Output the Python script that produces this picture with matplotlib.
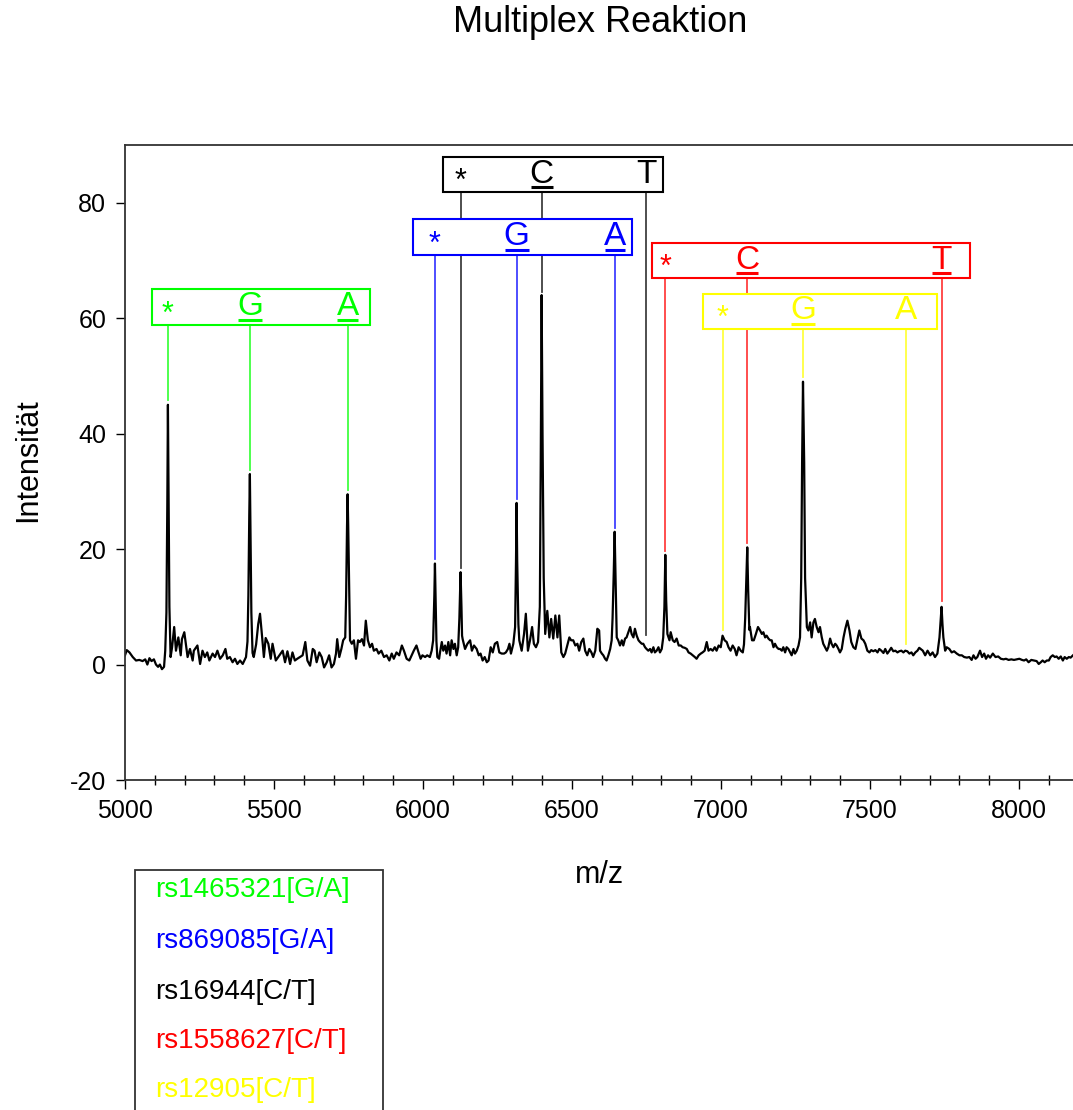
import numpy as np
import matplotlib
matplotlib.use('Agg')
import matplotlib.pyplot as plt
from matplotlib.patches import Rectangle

plt.rcParams['font.family'] = ['Liberation Sans', 'DejaVu Sans']
plt.rcParams['axes.unicode_minus'] = False

# spectrum: (m/z, intensity)
spectrum_points = [
  (5000, 1.6), (5006, 2.5), (5015, 2.1), (5026, 1.3), (5037, 0.7), (5048, 0.8), (5059, 0.6),
  (5068, 0.9), (5075, 0.0), (5082, 1.1), (5089, 0.6), (5097, 0.9), (5104, 0.0), (5111, -0.4),
  (5117, 0.0), (5124, -0.8), (5131, -0.4), (5135, 2.4), (5139, 9.0), (5142, 28.0), (5144, 45.0),
  (5146, 30.0), (5149, 10.0), (5153, 1.3), (5158, 3.0), (5165, 6.5), (5171, 2.4), (5179, 4.7),
  (5187, 1.6), (5191, 4.4), (5199, 5.6), (5210, 1.3), (5218, 2.7), (5227, 0.7), (5231, 2.4),
  (5243, 3.3), (5252, 0.1), (5260, 2.4), (5268, 1.3), (5276, 2.1), (5283, 0.7), (5294, 1.9),
  (5302, 1.3), (5310, 2.4), (5319, 1.0), (5328, 1.6), (5337, 2.7), (5343, 1.0), (5352, 1.3),
  (5361, 0.4), (5369, 1.0), (5377, 0.1), (5386, 0.7), (5395, 0.1), (5406, 1.3), (5411, 4.0),
  (5414, 12.0), (5417, 26.0), (5419, 33.0), (5421, 24.0), (5424, 9.0), (5428, 2.0), (5432, 1.3),
  (5440, 3.5), (5447, 7.0), (5453, 8.8), (5458, 6.0), (5466, 1.3), (5472, 4.6), (5481, 3.6),
  (5489, 1.0), (5495, 3.6), (5506, 0.7), (5518, 1.6),
  (5529, 2.4), (5537, 0.4), (5545, 2.3), (5554, 0.1), (5562, 2.1), (5570, 0.7), (5578, 1.0),
  (5587, 1.3), (5596, 1.6), (5605, 3.9), (5612, 0.7), (5621, -0.2), (5630, 2.7), (5636, 2.4),
  (5643, 0.4), (5652, 2.1), (5660, 1.3), (5668, -0.5), (5677, 0.4), (5685, 1.6), (5693, -0.5),
  (5701, 0.1), (5708, 1.9), (5712, 4.4), (5719, 1.3), (5726, 2.7), (5732, 4.2), (5739, 4.7),
  (5742, 12.0), (5745, 24.0), (5747, 29.5), (5749, 24.0), (5753, 10.0), (5755, 4.2), (5761, 3.6),
  (5768, 4.2), (5775, 1.0), (5782, 4.2), (5788, 3.9), (5795, 4.4), (5802, 3.3), (5808, 7.6),
  (5815, 4.2), (5822, 3.0), (5829, 3.6), (5835, 2.4), (5844, 2.7), (5851, 1.9), (5860, 2.4),
  (5869, 1.3), (5878, 1.6), (5887, 0.7), (5895, 1.9), (5902, 1.0), (5911, 2.1), (5920, 1.6),
  (5929, 3.3), (5936, 2.4), (5945, 1.0), (5954, 0.7), (5962, 1.6), (5969, 2.4), (5978, 3.3),
  (5985, 2.1), (5992, 1.0), (5998, 1.6), (6007, 1.3), (6014, 1.6), (6023, 1.3), (6029, 2.4),
  (6034, 4.2), (6038, 12.0), (6040, 17.5), (6042, 12.0), (6045, 4.0), (6048, 1.3), (6054, 1.0),
  (6057, 2.1), (6063, 3.9), (6068, 2.4), (6074, 3.3), (6079, 1.9), (6085, 3.9), (6091, 1.6),
  (6096, 4.2), (6102, 2.7), (6107, 3.6), (6113, 1.6), (6118, 3.0), (6122, 8.0), (6124, 12.0),
  (6126, 16.0), (6129, 10.0), (6131, 5.0), (6133, 4.4), (6141, 2.7), (6149, 3.6), (6158, 4.2),
  (6164, 2.4), (6171, 3.3), (6180, 2.7), (6187, 1.6), (6193, 1.9), (6200, 0.7), (6207, 1.3),
  (6214, 0.4), (6220, 0.7), (6227, 3.0), (6234, 2.1), (6241, 3.6), (6249, 3.9), (6256, 2.1),
  (6264, 1.9), (6272, 1.9), (6278, 2.1), (6285, 2.7), (6290, 3.6), (6295, 1.9), (6303, 3.6),
  (6309, 6.5), (6312, 18.0), (6314, 28.0), (6316, 18.0), (6320, 7.0), (6323, 4.2), (6331, 2.4),
  (6339, 5.3), (6345, 8.8), (6352, 2.4), (6359, 4.2), (6366, 6.5), (6372, 3.6), (6379, 3.0),
  (6386, 3.9), (6392, 10.0), (6395, 35.0), (6398, 64.0), (6401, 40.0), (6405, 15.0), (6410, 5.3),
  (6417, 9.3), (6424, 4.7), (6430, 7.9), (6437, 4.5), (6444, 8.5), (6451, 4.7), (6457, 8.5),
  (6464, 2.1), (6471, 1.3), (6477, 1.9), (6484, 3.3), (6491, 4.7), (6497, 4.2), (6504, 4.2),
  (6511, 3.3), (6518, 3.6), (6524, 2.4), (6531, 3.9), (6538, 4.5), (6544, 2.4), (6551, 1.6),
  (6558, 2.7), (6565, 2.1), (6571, 1.3), (6578, 2.4), (6585, 6.2), (6591, 5.9),
  (6594, 2.4), (6600, 1.9), (6605, 1.6), (6611, 1.0), (6616, 0.7), (6622, 1.6), (6628, 2.7),
  (6633, 4.2), (6636, 8.0), (6640, 16.0), (6643, 23.0), (6646, 15.0), (6650, 4.7), (6655, 4.2),
  (6661, 3.3), (6667, 4.2), (6672, 3.3), (6678, 4.5), (6683, 4.7), (6689, 5.6), (6695, 6.5),
  (6700, 5.3), (6706, 4.7), (6711, 6.2), (6717, 5.0), (6723, 4.2), (6728, 3.9), (6734, 3.6),
  (6739, 3.6), (6745, 3.0), (6750, 2.7), (6756, 2.4), (6762, 2.7), (6767, 2.1), (6773, 3.0),
  (6778, 2.1), (6784, 2.4), (6790, 3.0), (6795, 2.1), (6801, 2.7), (6806, 4.7), (6810, 10.0),
  (6813, 19.0), (6816, 11.0), (6820, 5.3), (6827, 4.2), (6831, 5.6), (6838, 4.2), (6844, 3.9),
  (6851, 4.5), (6858, 3.3), (6865, 3.3), (6871, 3.0), (6878, 2.9), (6885, 2.7), (6891, 2.1),
  (6898, 1.9), (6905, 1.6), (6912, 1.3), (6918, 1.0), (6925, 1.6), (6932, 1.9), (6938, 2.1),
  (6945, 2.4), (6952, 3.9), (6958, 2.4), (6965, 2.7), (6972, 2.4), (6979, 3.0), (6985, 2.4),
  (6992, 3.3), (6999, 3.0), (7005, 5.0), (7012, 4.2), (7019, 3.9), (7025, 3.0), (7032, 2.4),
  (7039, 3.3), (7046, 2.7), (7052, 1.6), (7059, 3.0), (7066, 2.4), (7073, 2.1), (7077, 3.5),
  (7081, 8.0), (7085, 15.0), (7088, 20.3), (7091, 13.0), (7095, 6.0), (7097, 6.5), (7104, 4.2),
  (7110, 4.2), (7117, 5.3), (7124, 6.5), (7131, 5.9),
  (7137, 5.3), (7142, 5.6), (7148, 4.7), (7153, 5.0), (7159, 4.5), (7165, 4.2), (7170, 4.2),
  (7176, 3.0), (7181, 3.6), (7187, 3.0), (7193, 2.7), (7198, 2.7), (7204, 2.4), (7209, 3.0),
  (7215, 2.1), (7220, 3.0), (7226, 2.7), (7232, 2.1), (7237, 1.6), (7243, 2.7), (7248, 1.9),
  (7254, 2.4), (7260, 3.3), (7265, 4.7), (7269, 15.0), (7272, 35.0), (7275, 49.0), (7279, 35.0),
  (7282, 15.0), (7288, 6.5), (7293, 5.9), (7299, 7.3), (7304, 4.7), (7310, 7.3), (7315, 7.9),
  (7321, 6.5), (7327, 5.6), (7332, 6.5), (7338, 4.7), (7343, 3.6), (7349, 3.0), (7355, 2.4),
  (7360, 3.0), (7366, 4.5), (7371, 3.6), (7377, 3.0), (7383, 3.6), (7388, 3.3), (7394, 2.7),
  (7399, 2.1), (7405, 2.7), (7411, 4.7), (7417, 6.2), (7424, 7.6), (7431, 5.9), (7437, 3.9),
  (7444, 3.0), (7451, 2.7), (7457, 4.2), (7464, 5.9), (7471, 4.5), (7478, 4.2), (7484, 3.6),
  (7491, 2.4), (7498, 2.1), (7504, 2.5), (7511, 2.3), (7518, 2.5), (7525, 2.1), (7531, 2.7),
  (7538, 2.4), (7545, 2.0), (7551, 2.7), (7558, 1.9), (7565, 2.4), (7571, 2.9), (7578, 2.3),
  (7585, 2.4), (7592, 2.1), (7598, 2.3), (7605, 2.4), (7612, 2.1), (7618, 2.4), (7625, 2.3),
  (7632, 1.9), (7639, 2.1), (7645, 1.6), (7652, 2.1), (7659, 2.4), (7665, 2.9),
  (7677, 2.4), (7685, 1.6), (7693, 2.4), (7702, 1.6), (7710, 2.1), (7718, 1.3), (7726, 1.9),
  (7733, 4.7), (7736, 7.0), (7740, 10.0), (7743, 7.0), (7746, 4.7), (7752, 2.4), (7757, 3.0),
  (7766, 2.7), (7774, 2.1), (7782, 2.3), (7791, 1.9), (7800, 1.6), (7808, 1.6), (7816, 1.3),
  (7825, 1.2), (7833, 1.3), (7841, 0.8), (7847, 1.6), (7854, 1.0), (7860, 1.3), (7869, 2.4),
  (7876, 1.3), (7883, 1.9), (7889, 1.0), (7896, 1.6), (7903, 1.2), (7912, 1.9), (7921, 1.3),
  (7930, 1.4), (7939, 1.0), (7948, 0.9), (7956, 1.0), (7965, 0.8), (7974, 0.9), (7983, 0.8),
  (7992, 0.9), (8001, 1.0), (8010, 0.8), (8017, 0.7), (8024, 0.9), (8032, 0.4), (8041, 0.8),
  (8050, 0.7), (8059, 0.6), (8066, 0.1), (8073, 0.4), (8079, 0.7), (8086, 0.4), (8093, 0.7),
  (8100, 0.7), (8106, 1.3), (8113, 1.6), (8120, 1.3), (8126, 1.4), (8133, 1.0), (8140, 1.4),
  (8147, 0.7), (8153, 1.3), (8160, 1.0), (8167, 1.3), (8173, 1.2), (8181, 1.6),
]

# SNP assays
snp_names = ['rs1465321[G/A]', 'rs869085[G/A]', 'rs16944[C/T]', 'rs1558627[C/T]', 'rs12905[C/T]']
snp_colors = ['#00ff00', '#0000ff', '#000000', '#ff0000', '#ffff00']
snp_labels = [['*', 'G', 'A'], ['*', 'G', 'A'], ['*', 'C', 'T'], ['*', 'C', 'T'], ['*', 'G', 'A']]
snp_mz = [[5144, 5419, 5747], [6040, 6314, 6643], [6126, 6398, 6748],
          [6813, 7088, 7740], [7005, 7275, 7621]]
stem_end = [[45.8, 33.7, 30.2], [18.3, 28.7, 23.7], [16.8, 64.6, 5.2],
            [19.6, 21.0, 11.0], [6.0, 49.8, 3.6]]
underlined = [[False, True, True], [False, True, True], [False, True, False],
              [False, True, True], [False, True, False]]

# label boxes (x0, x1, y0, y1) in data units, and drawing order
boxes = [(5091, 5822, 58.9, 65.1), (5966, 6701, 71.0, 77.1), (6067, 6805, 81.9, 88.0),
         (6768, 7836, 67.0, 73.1), (6940, 7725, 58.2, 64.2)]
zorders = [6, 8, 4, 4, 8]

W, H = 1073, 1110
fig = plt.figure(figsize=(W/100, H/100), dpi=100)
ax = fig.add_axes([125/W, 1-780/H, (W-125)/W, (780-145)/H])

mz = np.array([p[0] for p in spectrum_points])
inten = np.array([p[1] for p in spectrum_points])
ax.plot(mz, inten, color='black', lw=1.6, zorder=2)

ax.set_xlim(5000, 8181)
ax.set_ylim(-20, 90)
ax.set_xticks(np.arange(5000, 8001, 500))
ax.set_xticks(np.arange(5100, 8181, 100), minor=True)
ax.set_yticks(np.arange(-20, 81, 20))
ax.tick_params(axis='x', which='major', direction='out', length=6.5, width=1, labelsize=18, pad=7)
ax.tick_params(axis='x', which='minor', direction='inout', length=7.5, width=1)
ax.tick_params(axis='y', which='major', direction='out', length=6.5, width=1, labelsize=18, pad=7)
ax.spines['right'].set_visible(False)
for s in ['left', 'bottom', 'top']:
  ax.spines[s].set_color('#333333')
  ax.spines[s].set_linewidth(1.3)

letters = []
for i in range(len(snp_names)):
  col = snp_colors[i]
  x0, x1, y0, y1 = boxes[i]
  z = zorders[i]
  for m, e in zip(snp_mz[i], stem_end[i]):
    ax.plot([m, m], [e, y0], color=col, lw=1.3, alpha=0.75, zorder=z)
  ax.add_patch(Rectangle((x0, y0), x1-x0, y1-y0, facecolor='white', edgecolor=col,
                         lw=1.5, zorder=z+0.5))
  for lab, m, u in zip(snp_labels[i], snp_mz[i], underlined[i]):
    if lab == '*':
      ax.text(m, y0 + 0.3, lab, ha='center', va='baseline', fontsize=22, color=col, zorder=z+1)
    else:
      t = ax.text(m, y0 + 1.6, lab, ha='center', va='baseline', fontsize=24, color=col, zorder=z+1)
      if u:
        letters.append((t, col, y0 + 0.75, z+1))

# underlines under the allele letters
fig.canvas.draw()
renderer = fig.canvas.get_renderer()
inv = ax.transData.inverted()
for t, col, yu, z in letters:
  bb = t.get_window_extent(renderer)
  xa = inv.transform((bb.x0 + 1, 0))[0]
  xb = inv.transform((bb.x1 - 1, 0))[0]
  ax.plot([xa, xb], [yu, yu], color=col, lw=2.2, solid_capstyle='butt', zorder=z)

fig.text(600/W, 1-22/H, 'Multiplex Reaktion', ha='center', va='center', fontsize=26)
fig.text(600/W, 1-875/H, 'm/z', ha='center', va='center', fontsize=22)
fig.text(28/W, 1-460/H, 'Intensität', ha='center', va='center', fontsize=22, rotation=90)

# legend box, cut off at the bottom of the figure
leg = Rectangle((135/W, -0.05), (383-135)/W, 1-870/H+0.05, transform=fig.transFigure,
                facecolor='none', edgecolor='#333333', lw=1.3, clip_on=False)
fig.add_artist(leg)
leg_y = [890, 941, 992, 1041, 1090]
for name, col, y in zip(snp_names, snp_colors, leg_y):
  fig.text(155/W, 1-y/H, name, ha='left', va='center', fontsize=20, color=col)

fig.savefig('out.png', dpi=100)
